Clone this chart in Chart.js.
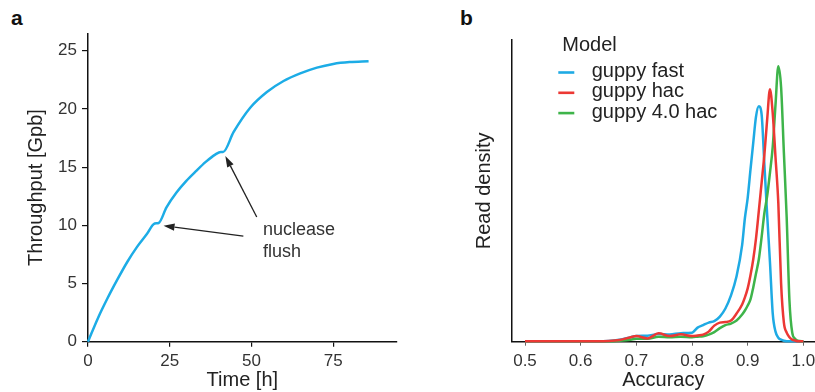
<!DOCTYPE html>
<html>
<head>
<meta charset="utf-8">
<script src="https://cdn.jsdelivr.net/npm/chart.js@4.4.0/dist/chart.umd.min.js"></script>
<style>
  html, body { margin: 0; padding: 0; background: #fff; overflow: hidden; }
  body { width: 815px; height: 392px; position: relative; font-family: "Liberation Sans", Arial, sans-serif; }
  canvas { position: absolute; top: 0; }
  #throughput { left: 0; }
  #accuracy { left: 410px; }
  .panel { position: absolute; font-weight: bold; font-size: 21px; line-height: 21px; color: #111; }
</style>
</head>
<body>
<div class="panel" style="left:11px; top:7px">a</div>
<div class="panel" style="left:460px; top:7px">b</div>
<canvas id="throughput" width="410" height="392"></canvas>
<canvas id="accuracy" width="420" height="392"></canvas>
<script>
/* Panel a: throughput of one flow cell over the run */
const hours = [0, 3, 6, 9, 12, 15, 18, 20.4, 21.6, 24, 27, 30, 33, 36, 39, 40.6, 41.3,
  44.5, 49.6, 54.7, 59.8, 64.9, 70, 75, 80, 85.8];
const gigabases = [0, 2.0, 3.75, 5.35, 6.85, 8.15, 9.25, 10.15, 10.2, 11.55, 12.8, 13.8, 14.65, 15.45, 16.1, 16.3, 16.3,
  18.0, 20.1, 21.45, 22.4, 23.05, 23.55, 23.87, 24.03, 24.1];

// arrows pointing at the nuclease flushes (tail, head) and the note next to them
const flushArrows = [
  { from: [47.5, 9.08], to: [23.1, 9.97] },
  { from: [51.6, 10.72], to: [42.0, 15.95] }
];
const flushNote = ['nuclease', 'flush'];

/* Panel b: read accuracy density per basecaller model */
const accuracy = [0.50, 0.55, 0.60, 0.65, 0.67, 0.69, 0.70, 0.72, 0.74, 0.76, 0.78, 0.80,
  0.81, 0.82, 0.83, 0.84, 0.85, 0.86, 0.87, 0.88, 0.89, 0.895, 0.90, 0.905, 0.91, 0.915,
  0.92, 0.925, 0.93, 0.935, 0.94, 0.945, 0.95, 0.955, 0.96, 0.965, 0.97, 0.975, 0.98, 0.985, 0.99, 1.00];
const models = ['guppy fast', 'guppy hac', 'guppy 4.0 hac'];
const densityFast = [0.05, 0.05, 0.05, 0.08, 0.2, 0.45, 0.56, 0.6, 0.76, 0.72, 0.85, 0.9,
  1.4, 1.65, 1.9, 2.05, 2.5, 3.3, 4.6, 6.5, 9.6, 12.3, 14.3, 17.1, 19.8, 22.4,
  23.4, 22.6, 17.6, 12.6, 7.9, 2.8, 1.0, 0.4, 0.2, 0.1, 0.05, 0.05, 0.05, 0.05, 0.05, 0.05];
const densityHac = [0.05, 0.05, 0.05, 0.08, 0.17, 0.45, 0.56, 0.33, 0.83, 0.56, 0.73, 0.56,
  0.62, 0.7, 1.0, 1.6, 1.9, 1.95, 2.1, 2.8, 3.7, 4.4, 5.3, 6.6, 8.2, 10.3,
  13.0, 15.8, 18.6, 22.1, 25.1, 22.7, 18.3, 13.8, 5.8, 1.9, 0.9, 0.45, 0.2, 0.12, 0.05, 0.05];
const densityHac4 = [0.05, 0.05, 0.05, 0.05, 0.1, 0.2, 0.3, 0.3, 0.5, 0.45, 0.5, 0.45,
  0.5, 0.55, 0.7, 0.95, 1.35, 1.65, 1.8, 2.1, 2.7, 3.1, 3.6, 4.2, 5.4, 6.8,
  8.2, 10.4, 12.8, 14.5, 16.8, 19.4, 23.6, 27.4, 25.3, 18.8, 12.4, 4.1, 0.9, 0.3, 0.1, 0.05];
const legendTitle = 'Model';

const FONT = '"Liberation Sans", Arial, sans-serif';
Chart.defaults.font.family = FONT;
Chart.defaults.color = '#333';

function toPoints(xs, ys) {
  return xs.map((v, i) => ({ x: v, y: ys[i] }));
}

// axis look shared by both panels
function axis(opts) {
  return Object.assign({
    type: 'linear',
    border: { display: true, color: '#111', width: 1.5 },
    grid: { display: true, drawOnChartArea: false, drawTicks: true, tickLength: 5, color: '#111', lineWidth: 1.2 },
    ticks: { font: { size: 17 }, color: '#333', padding: 4, includeBounds: false },
    title: { display: true, font: { size: 20 }, color: '#222' }
  }, opts);
}

/* arrows + note for panel a */
const flushNotes = {
  id: 'flushNotes',
  afterDatasetsDraw(chart) {
    const { ctx, scales: { x, y } } = chart;
    ctx.save();
    ctx.strokeStyle = '#222';
    ctx.fillStyle = '#222';
    ctx.lineWidth = 1.3;
    flushArrows.forEach(a => {
      const x0 = x.getPixelForValue(a.from[0]), y0 = y.getPixelForValue(a.from[1]);
      const x1 = x.getPixelForValue(a.to[0]), y1 = y.getPixelForValue(a.to[1]);
      const ang = Math.atan2(y1 - y0, x1 - x0);
      const head = 11, half = 3.6;
      const bx = x1 - head * Math.cos(ang), by = y1 - head * Math.sin(ang);
      ctx.beginPath();
      ctx.moveTo(x0, y0);
      ctx.lineTo(bx, by);
      ctx.stroke();
      ctx.beginPath();
      ctx.moveTo(x1, y1);
      ctx.lineTo(bx + half * Math.sin(ang), by - half * Math.cos(ang));
      ctx.lineTo(bx - half * Math.sin(ang), by + half * Math.cos(ang));
      ctx.closePath();
      ctx.fill();
    });
    ctx.font = '18px ' + FONT;
    ctx.fillStyle = '#333';
    ctx.textBaseline = 'alphabetic';
    ctx.fillText(flushNote[0], x.getPixelForValue(53.5), y.getPixelForValue(9.17));
    ctx.fillText(flushNote[1], x.getPixelForValue(53.5), y.getPixelForValue(7.3));
    ctx.restore();
  }
};

/* legend for panel b, short dashes in the line colours */
const modelLegend = {
  id: 'modelLegend',
  afterDraw(chart) {
    const { ctx, chartArea } = chart;
    const left = chartArea.left, top = chartArea.top;
    ctx.save();
    ctx.font = '20px ' + FONT;
    ctx.fillStyle = '#222';
    ctx.textBaseline = 'alphabetic';
    ctx.fillText(legendTitle, left + 50.6, top + 10.7);
    chart.data.datasets.forEach((ds, i) => {
      const base = top + 37 + i * 20.3;
      ctx.strokeStyle = ds.borderColor;
      ctx.lineWidth = 2.6;
      ctx.beginPath();
      ctx.moveTo(left + 46.6, base - 4.5);
      ctx.lineTo(left + 62.6, base - 4.5);
      ctx.stroke();
      ctx.fillText(ds.label, left + 80, base);
    });
    ctx.restore();
  }
};

new Chart(document.getElementById('throughput'), {
  type: 'line',
  data: {
    datasets: [{
      data: toPoints(hours, gigabases),
      borderColor: 'rgb(28, 172, 230)',
      borderWidth: 2.5,
      pointRadius: 0,
      cubicInterpolationMode: 'monotone',
      clip: false
    }]
  },
  options: {
    responsive: false,
    animation: false,
    events: [],
    layout: { padding: { left: 0, top: 33.3, right: 13.3, bottom: 0 } },
    plugins: { legend: { display: false }, tooltip: { enabled: false } },
    scales: {
      x: axis({
        min: 0, max: 94.4,
        ticks: { font: { size: 17 }, color: '#333', padding: 4, stepSize: 25, includeBounds: false },
        title: { display: true, text: 'Time [h]', font: { size: 20 }, color: '#222', padding: { top: 0, bottom: 0 } },
        afterFit: s => { s.height = 50.3; }
      }),
      y: axis({
        min: 0, max: 26.5,
        grid: { display: true, drawOnChartArea: false, drawTicks: true, tickLength: 6, color: '#111', lineWidth: 1.2 },
        ticks: { font: { size: 17 }, color: '#333', padding: 5, stepSize: 5, includeBounds: false },
        title: { display: true, text: 'Throughput [Gpb]', font: { size: 20 }, color: '#222', padding: { top: 24, bottom: 0 } },
        afterFit: s => { s.width = 88; }
      })
    }
  },
  plugins: [flushNotes]
});

const lineColors = ['rgb(30, 170, 228)', 'rgb(236, 56, 52)', 'rgb(62, 180, 74)'];
const densities = [densityFast, densityHac, densityHac4];
const drawOrder = [2, 0, 1];

new Chart(document.getElementById('accuracy'), {
  type: 'line',
  data: {
    datasets: models.map((m, i) => ({
      label: m,
      data: toPoints(accuracy, densities[i]),
      borderColor: lineColors[i],
      backgroundColor: lineColors[i],
      borderWidth: 2.5,
      pointRadius: 0,
      cubicInterpolationMode: 'monotone',
      order: drawOrder[i],
      clip: false
    }))
  },
  options: {
    responsive: false,
    animation: false,
    events: [],
    layout: { padding: { left: 0, top: 40, right: 15, bottom: 0 } },
    plugins: { legend: { display: false }, tooltip: { enabled: false } },
    scales: {
      x: axis({
        min: 0.4761, max: 1.0209,
        grid: { display: true, drawOnChartArea: false, drawTicks: true, tickLength: 4, color: '#666', lineWidth: 1 },
        ticks: { font: { size: 17 }, color: '#333', padding: 5, stepSize: 0.1, includeBounds: false, callback: v => v.toFixed(1) },
        title: { display: true, text: 'Accuracy', font: { size: 20 }, color: '#222', padding: { top: 0, bottom: 0 } },
        afterFit: s => { s.height = 50.3; }
      }),
      y: axis({
        min: 0, max: 30,
        grid: { display: true, drawOnChartArea: false, drawTicks: false },
        ticks: { display: false },
        title: { display: true, text: 'Read density', font: { size: 20 }, color: '#222', padding: { top: 62.7, bottom: 0 } },
        afterFit: s => { s.width = 101.7; }
      })
    }
  },
  plugins: [modelLegend]
});
</script>
</body>
</html>
